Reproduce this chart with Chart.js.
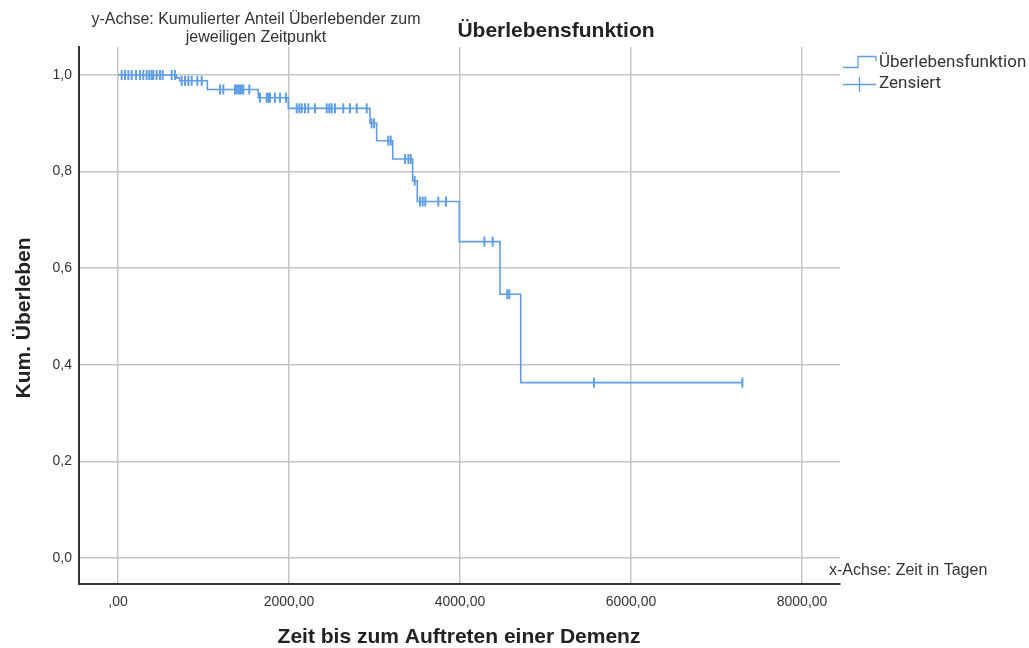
<!DOCTYPE html>
<html lang="de">
<head>
<meta charset="utf-8">
<title>Überlebensfunktion</title>
<script src="https://cdn.jsdelivr.net/npm/chart.js@4/dist/chart.umd.min.js"></script>
<style>
  html, body { margin: 0; padding: 0; background: #ffffff; }
  #wrap { width: 1029px; height: 648px; position: relative; }
</style>
</head>
<body>
<div id="wrap"><canvas id="km" width="1029" height="648"></canvas></div>
<script>
// Kaplan-Meier estimate: event times (days) and survival after each step
const eventTimes = [0, 686, 720, 1045, 1641, 1992, 2947, 3025, 3213, 3446, 3500, 3992, 4468, 4710];
const survival   = [1.0, 0.994, 0.988, 0.970, 0.953, 0.931, 0.900, 0.864, 0.826, 0.781, 0.738, 0.655, 0.546, 0.363];
// last observation time (the curve runs out to here)
const lastTime = 7302;

// censored observations (days)
const censoredTimes = [
  43, 82, 121, 160, 211, 257, 296, 335, 366, 394, 413, 452, 491, 523, 628, 667,
  745, 784, 823, 862, 928, 979,
  1193, 1232, 1368, 1388, 1408, 1427, 1447, 1466, 1536,
  1661, 1739, 1758, 1778, 1836, 1895, 1965,
  2090, 2121, 2149, 2187, 2226, 2304, 2441, 2471, 2499, 2538, 2635, 2713, 2792, 2909,
  2965, 2995,
  3161, 3190,
  3357, 3396, 3424,
  3470,
  3532, 3564, 3594, 3746, 3836,
  4285, 4382,
  4553, 4577,
  5567, 7302
];

// axis ticks and labels
const xTicks = [0, 2000, 4000, 6000, 8000];
const xTickLabels = [',00', '2000,00', '4000,00', '6000,00', '8000,00'];
const yTicks = [0, 0.2, 0.4, 0.6, 0.8, 1.0];
const yTickLabels = ['0,0', '0,2', '0,4', '0,6', '0,8', '1,0'];

const titleText = 'Überlebensfunktion';
const yNote = ['y-Achse: Kumulierter Anteil Überlebender zum', 'jeweiligen Zeitpunkt'];
const xNote = 'x-Achse: Zeit in Tagen';
const xTitle = 'Zeit bis zum Auftreten einer Demenz';
const yTitle = 'Kum. Überleben';
const legendLabels = ['Überlebensfunktion', 'Zensiert'];

const LINE = '#5f9de6';
const GRID = '#c4c4c4';
const AXIS = '#333333';
const TEXT = '#222222';
const FONT = "'Liberation Sans', Arial, sans-serif";

function survivalAt(t) {
  let s = survival[0];
  for (let i = 0; i < eventTimes.length; i++) {
    if (eventTimes[i] <= t) s = survival[i];
  }
  return s;
}

const curve = eventTimes.map((t, i) => ({ x: t, y: survival[i] }));
curve.push({ x: lastTime, y: survival[survival.length - 1] });
const censored = censoredTimes.map(t => ({ x: t, y: survivalAt(t) }));

// text, legend and titles drawn on top of the chart
const decorations = {
  id: 'decorations',
  afterDraw(chart) {
    const ctx = chart.ctx;
    ctx.save();
    ctx.fillStyle = TEXT;

    // title
    ctx.font = `bold 21px ${FONT}`;
    ctx.textAlign = 'center';
    ctx.textBaseline = 'middle';
    ctx.fillText(titleText, 556, 31);

    // y note above the plot
    ctx.font = `16px ${FONT}`;
    ctx.fillStyle = '#333333';
    ctx.fillText(yNote[0], 256, 20);
    ctx.fillText(yNote[1], 256, 38);

    // x note at the right end of the axis
    ctx.textAlign = 'left';
    ctx.fillText(xNote, 829, 571);

    // axis titles
    ctx.fillStyle = TEXT;
    ctx.font = `bold 21px ${FONT}`;
    ctx.textAlign = 'center';
    ctx.fillText(xTitle, 459, 637);
    ctx.save();
    ctx.translate(24, 318);
    ctx.rotate(-Math.PI / 2);
    ctx.fillText(yTitle, 0, 0);
    ctx.restore();

    // legend
    ctx.strokeStyle = LINE;
    ctx.lineWidth = 1.3;
    ctx.beginPath();
    ctx.moveTo(843, 67.5);
    ctx.lineTo(858, 67.5);
    ctx.lineTo(858, 56.5);
    ctx.lineTo(876, 56.5);
    ctx.lineTo(876, 61);
    ctx.stroke();
    ctx.beginPath();
    ctx.moveTo(843, 84.5);
    ctx.lineTo(876, 84.5);
    ctx.moveTo(859.5, 77);
    ctx.lineTo(859.5, 92);
    ctx.stroke();

    ctx.fillStyle = '#333333';
    ctx.font = `17px Roboto, ${FONT}`;
    ctx.textAlign = 'left';
    ctx.fillText(legendLabels[0], 879, 63);
    ctx.fillText(legendLabels[1], 879, 84);
    ctx.restore();
  }
};

new Chart(document.getElementById('km'), {
  type: 'line',
  data: {
    datasets: [
      {
        label: legendLabels[0],
        data: curve,
        stepped: 'before',
        borderColor: LINE,
        borderWidth: 1.6,
        pointRadius: 0,
        fill: false,
        order: 2
      },
      {
        label: legendLabels[1],
        type: 'scatter',
        data: censored,
        showLine: false,
        pointStyle: 'line',
        rotation: 90,
        pointRadius: 5,
        borderColor: LINE,
        backgroundColor: LINE,
        pointBorderWidth: 2,
        order: 1
      }
    ]
  },
  options: {
    responsive: false,
    animation: false,
    events: [],
    layout: { padding: { left: 0, top: 47, right: 189, bottom: 0 } },
    plugins: {
      legend: { display: false },
      title: { display: false },
      tooltip: { enabled: false }
    },
    scales: {
      x: {
        type: 'linear',
        min: -456,
        max: 8444,
        afterBuildTicks(scale) { scale.ticks = xTicks.map(v => ({ value: v })); },
        afterFit(scale) { scale.height = 64; },
        grid: { color: GRID, lineWidth: 1.5, drawTicks: false },
        border: { display: true, color: AXIS, width: 2 },
        ticks: {
          padding: 10,
          color: '#333333',
          font: { family: FONT, size: 14 },
          maxRotation: 0,
          autoSkip: false,
          callback: (v) => xTickLabels[xTicks.indexOf(v)]
        }
      },
      y: {
        type: 'linear',
        min: -0.054,
        max: 1.058,
        afterBuildTicks(scale) { scale.ticks = yTicks.map(v => ({ value: v })); },
        afterFit(scale) { scale.width = 79; },
        grid: { color: GRID, lineWidth: 1.5, drawTicks: false },
        border: { display: true, color: AXIS, width: 2 },
        ticks: {
          padding: 7,
          color: '#333333',
          font: { family: FONT, size: 14 },
          autoSkip: false,
          callback: (v) => {
            const i = yTicks.findIndex(t => Math.abs(t - v) < 1e-9);
            return i >= 0 ? yTickLabels[i] : '';
          }
        }
      }
    }
  },
  plugins: [decorations]
});
</script>
</body>
</html>
